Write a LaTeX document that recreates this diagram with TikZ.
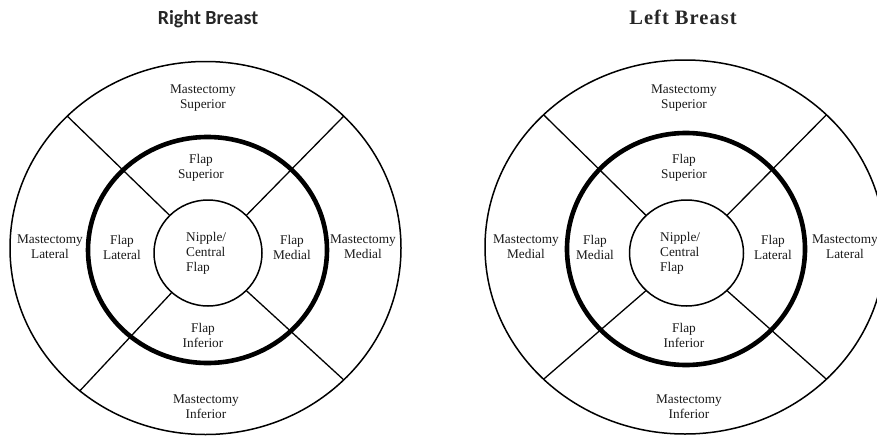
\documentclass[tikz,border=0pt]{standalone}
\usepackage{fontspec}
\newfontfamily\titlesans{Carlito}
\newfontfamily\labelserif{Liberation Serif}
\newfontfamily\titleserif[LetterSpace=5]{Liberation Serif}
\begin{document}
\begin{tikzpicture}[x=1pt,y=-1pt,
  ring/.style={line width=1.5pt, black},
  flapring/.style={line width=4.6pt, black},
  divider/.style={line width=1.3pt, black},
  lbl/.style={align=center, inner sep=0pt, text=black!90,
    font=\labelserif\fontsize{13.3}{15}\selectfont},
  lblleft/.style={lbl, align=left, anchor=west},
  ttl/.style={anchor=base, inner sep=0pt, text=black!85},
]
\useasboundingbox (0,0) rectangle (877,439);
\clip (0,0) rectangle (877,439);

% ---------- Right breast ----------
\coordinate (Rout) at (205.5,248);
\coordinate (Rflap) at (207.5,250);
\coordinate (Rin) at (208,253);
\foreach \ao/\ai in {45/45,135/135,230/228,315/315}{
  \draw[divider] ([shift={(\ao:195.5pt and 186.5pt)}]Rout) -- ([shift={(\ai:54pt and 53pt)}]Rin);
}
\draw[ring] (Rout) ellipse [x radius=195.5pt, y radius=186.5pt];
\draw[flapring] (Rflap) ellipse [x radius=119.5pt, y radius=113pt];
\draw[ring] (Rin) ellipse [x radius=54pt, y radius=53pt];

\node[ttl, font=\titlesans\bfseries\fontsize{20}{24}\selectfont] (Rtitle) at (208,24) {Right Breast};
\node[lbl] (RMS) at (203,98) {Mastectomy\\Superior};
\node[lbl] (RFS) at (201,168) {Flap\\Superior};
\node[lbl] (RML) at (50,247) {Mastectomy\\Lateral};
\node[lbl] (RFL) at (122,247) {Flap\\Lateral};
\node[lblleft] (RNC) at (186,253) {Nipple/\\Central\\Flap};
\node[lbl] (RFM) at (292,247) {Flap\\Medial};
\node[lbl] (RMM) at (363,247) {Mastectomy\\Medial};
\node[lbl] (RFI) at (203,335) {Flap\\Inferior};
\node[lbl] (RMI) at (206,407) {Mastectomy\\Inferior};

% ---------- Left breast ----------
\coordinate (Lout) at (685,247);
\coordinate (Lflap) at (686,249);
\coordinate (Lin) at (686.5,253);
\foreach \ao/\ai in {45/45,135/135,225/225,315/315}{
  \draw[divider] ([shift={(\ao:200pt and 187pt)}]Lout) -- ([shift={(\ai:57pt and 53pt)}]Lin);
}
\draw[ring] (Lout) ellipse [x radius=200pt, y radius=187pt];
\draw[flapring] (Lflap) ellipse [x radius=119pt, y radius=116pt];
\draw[ring] (Lin) ellipse [x radius=57pt, y radius=53pt];

\node[ttl, font=\titleserif\bfseries\fontsize{20.5}{24}\selectfont] (Ltitle) at (683,24) {Left Breast};
\node[lbl] (LMS) at (684,98) {Mastectomy\\Superior};
\node[lbl] (LFS) at (684,168) {Flap\\Superior};
\node[lbl] (LMM) at (526,247) {Mastectomy\\Medial};
\node[lbl] (LFM) at (595,247) {Flap\\Medial};
\node[lblleft] (LNC) at (660,253) {Nipple/\\Central\\Flap};
\node[lbl] (LFL) at (773,247) {Flap\\Lateral};
\node[lbl] (LML) at (845,247) {Mastectomy\\Lateral};
\node[lbl] (LFI) at (684,335) {Flap\\Inferior};
\node[lbl] (LMI) at (689,407) {Mastectomy\\Inferior};
\end{tikzpicture}
\end{document}
